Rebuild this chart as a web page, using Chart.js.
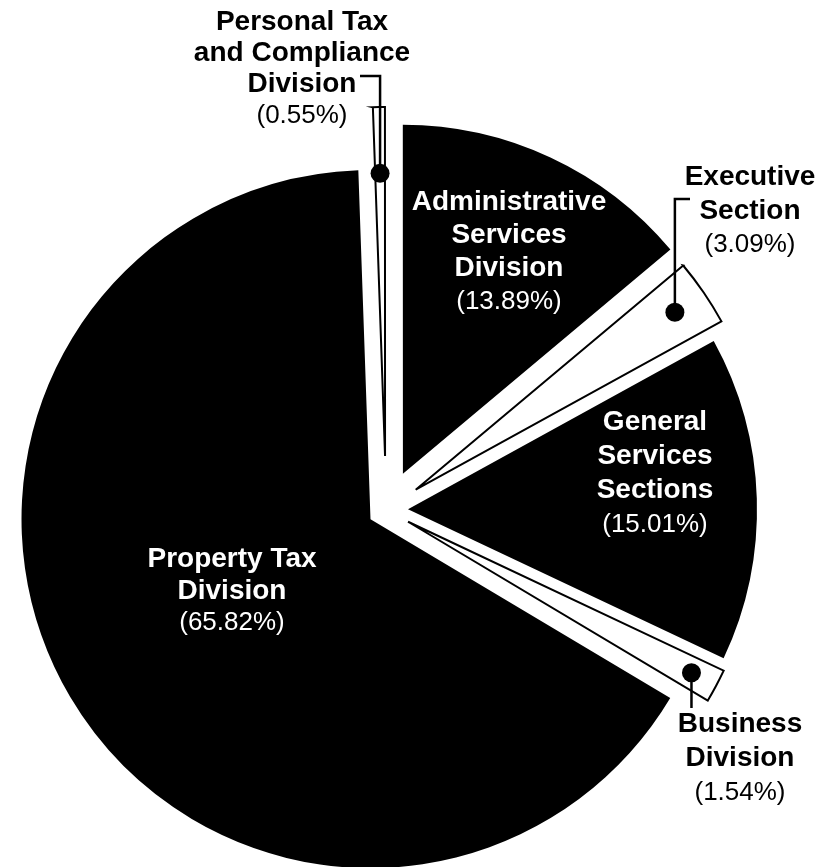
<!DOCTYPE html>
<html>
<head>
<meta charset="utf-8">
<title>Budget by division</title>
<script src="https://cdn.jsdelivr.net/npm/chart.js@4.4.1/dist/chart.umd.min.js"></script>
<style>
  html, body { margin: 0; padding: 0; background: #fff; }
  #pie { display: block; }
</style>
</head>
<body>
<canvas id="pie" width="836" height="867"></canvas>
<script>
// Share of the budget by division, in percent
const divisions = [
  'Personal Tax and Compliance Division',
  'Administrative Services Division',
  'Executive Section',
  'General Services Sections',
  'Business Division',
  'Property Tax Division'
];
const shares = [0.55, 13.89, 3.09, 15.01, 1.54, 65.82];

// how each name breaks over lines
const nameLines = [
  ['Personal Tax', 'and Compliance', 'Division'],
  ['Administrative', 'Services', 'Division'],
  ['Executive', 'Section'],
  ['General', 'Services', 'Sections'],
  ['Business', 'Division'],
  ['Property Tax', 'Division']
];

// small slices are hollow and get their label outside
const smallSlice = [true, false, true, false, true, false];
// how far each slice is pulled away from the centre (px)
const explode = [54, 40, 36, 22, 25, 18];

// text blocks: centre x, first baseline, line height
const labelPos = [
  { x: 302, y: 30, lh: 31 },
  { x: 509, y: 210, lh: 33 },
  { x: 750, y: 185, lh: 33.5 },
  { x: 655, y: 430, lh: 34 },
  { x: 740, y: 732, lh: 34 },
  { x: 232, y: 567, lh: 31.5 }
];

// leader lines for the outside labels: dot spot along the slice radius, then elbow/end
const leaders = {
  0: { frac: 0.81, toY: 76, toX: 360 },
  2: { frac: 0.9, toY: 199, toX: 690 },
  4: { frac: 0.92, toY: 708 }
};

// push every arc out along its own middle angle
const explodePlugin = {
  id: 'explode',
  afterDatasetUpdate(chart, args) {
    args.meta.data.forEach((arc, i) => {
      const mid = (arc.startAngle + arc.endAngle) / 2;
      arc.x += Math.cos(mid) * explode[i];
      arc.y += Math.sin(mid) * explode[i];
    });
  }
};

const calloutPlugin = {
  id: 'callouts',
  afterDatasetsDraw(chart) {
    const ctx = chart.ctx;
    const arcs = chart.getDatasetMeta(0).data;
    ctx.save();
    ctx.strokeStyle = '#000';
    ctx.fillStyle = '#000';
    ctx.lineWidth = 2.5;
    ctx.lineJoin = 'miter';

    Object.keys(leaders).forEach(k => {
      const i = Number(k);
      const arc = arcs[i];
      const l = leaders[i];
      const mid = (arc.startAngle + arc.endAngle) / 2;
      const r = arc.outerRadius * l.frac;
      const dx = arc.x + Math.cos(mid) * r;
      const dy = arc.y + Math.sin(mid) * r;
      ctx.beginPath();
      ctx.moveTo(dx, dy);
      ctx.lineTo(dx, l.toY);
      if (l.toX !== undefined) ctx.lineTo(l.toX, l.toY);
      ctx.stroke();
      ctx.beginPath();
      ctx.arc(dx, dy, 9.5, 0, Math.PI * 2);
      ctx.fill();
    });

    ctx.textAlign = 'center';
    ctx.textBaseline = 'alphabetic';
    shares.forEach((v, i) => {
      const p = labelPos[i];
      const lines = nameLines[i];
      ctx.fillStyle = smallSlice[i] ? '#000' : '#fff';
      ctx.font = 'bold 28px "Liberation Sans", Arial, sans-serif';
      lines.forEach((t, j) => ctx.fillText(t, p.x, p.y + j * p.lh));
      ctx.font = '26px "Liberation Sans", Arial, sans-serif';
      ctx.fillText('(' + v.toFixed(2) + '%)', p.x, p.y + lines.length * p.lh);
    });
    ctx.restore();
  }
};

new Chart(document.getElementById('pie'), {
  type: 'pie',
  data: {
    labels: divisions,
    datasets: [{
      data: shares,
      backgroundColor: smallSlice.map(s => s ? '#fff' : '#000'),
      borderColor: '#000',
      borderWidth: smallSlice.map(s => s ? 2 : 0),
      borderJoinStyle: 'miter',
      clip: false
    }]
  },
  options: {
    responsive: false,
    devicePixelRatio: 1,
    animation: false,
    events: [],
    rotation: -2,
    radius: 349,
    layout: { padding: { left: 0, right: 64, top: 153, bottom: 0 } },
    plugins: {
      legend: { display: false },
      tooltip: { enabled: false }
    }
  },
  plugins: [explodePlugin, calloutPlugin]
});
</script>
</body>
</html>
